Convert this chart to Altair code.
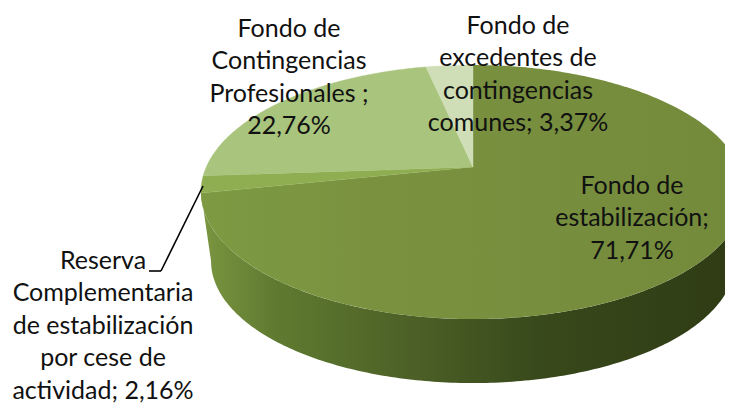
import math
import altair as alt

names = ["Fondo de estabilización", "Reserva Complementaria de estabilización por cese de actividad",
         "Fondo de Contingencias Profesionales", "Fondo de excedentes de contingencias comunes"]
shares = [71.71, 2.16, 22.76, 3.37]
face_colors = ["#7a9340", "#8fae52", "#a9c47c", "#cfdeb6"]
label_texts = [
    "Fondo de\nestabilización;\n71,71%",
    "Reserva\nComplementaria\nde estabilización\npor cese de\nactividad; 2,16%",
    "Fondo de\nContingencias\nProfesionales ;\n22,76%",
    "Fondo de\nexcedentes de\ncontingencias\ncomunes; 3,37%",
]
label_pos = [(624, 166), (95, 241), (281, 9), (510, 6)]

# perspective view of the pie, in chart pixels
VX, VY = 465, 159
K, A, C = 0.197, 122.1, 266.7
RIM_BOTTOM = 311
WALL_BOTTOM = 375
SHRINK_X, SHRINK_Y = 0.963, 0.96


def rim(theta_deg):
    t = math.radians(theta_deg)
    u, v = math.sin(t), math.cos(t)
    w = 1 + K * v
    return (VX + C * u / w, VY - A * v / w)


def feature(pts, name):
    ring = [[x, -y] for x, y in pts]
    ring.append(ring[0])
    return {"type": "Feature", "properties": {"name": name},
            "geometry": {"type": "Polygon", "coordinates": [ring]}}


def shape_chart(feat, fill):
    kw = {} if isinstance(fill, alt.Gradient) else {"stroke": fill, "strokeWidth": 0.4}
    return alt.Chart(alt.Data(values=[feat])).mark_geoshape(fill=fill, **kw).project(
        type="identity", reflectY=True, scale=1, translate=[0, 0]
    )


def hgrad(*stops):
    return alt.Gradient(
        gradient="linear", x1=0, y1=0, x2=1, y2=0,
        stops=[alt.GradientStop(offset=o, color=c) for o, c in stops],
    )


layers = []
e = math.degrees(math.acos(-K))
lower = [rim(e + (360 - 2 * e) * i / 200) for i in range(201)]
bottom = [(VX + (x - VX) * SHRINK_X, WALL_BOTTOM - (RIM_BOTTOM - y) * SHRINK_Y) for x, y in lower]
wall_pts = lower + list(reversed(bottom))
wall_fill = hgrad((0, "#7a9640"), (0.14, "#5f7a30"), (0.4, "#4b5f26"), (0.62, "#38491b"), (1, "#2e3b14"))
layers.append(shape_chart(feature(wall_pts, "wall"), wall_fill))

main_fill = hgrad((0, "#7d9a42"), (0.3, "#7a9240"), (1, "#738a3b"))
start = 0.0
for i, (name, share, col) in enumerate(zip(names, shares, face_colors)):
    end = start + share * 3.6
    n = max(4, int(share * 4))
    pts = [(VX, VY)] + [rim(start + (end - start) * j / n) for j in range(n + 1)]
    layers.append(shape_chart(feature(pts, name), main_fill if i == 0 else col))
    start = end

leader = alt.Chart(alt.Data(values=[
    {"a": 141, "b": 263, "c": 153, "d": 263},
    {"a": 153, "b": 263, "c": 195, "d": 178},
])).mark_rule(color="#000000", strokeWidth=1.6).encode(
    x=alt.X("a:Q", scale=None), y=alt.Y("b:Q", scale=None),
    x2="c:Q", y2="d:Q",
)
layers.append(leader)

for txt, (x, y) in zip(label_texts, label_pos):
    layers.append(
        alt.Chart(alt.Data(values=[{"t": txt}])).mark_text(
            font="Lato", fontSize=25, color="#111111", align="center", baseline="top",
            lineBreak="\n", lineHeight=32.4,
        ).encode(text="t:N", x=alt.value(x), y=alt.value(y))
    )

chart = alt.layer(*layers).properties(
    width=717, height=395, padding=0, autosize=alt.AutoSizeParams(type="none"),
    background="#ffffff",
).configure_view(stroke=None)

chart.save("out.html", embed_options={"renderer": "svg", "actions": False})
